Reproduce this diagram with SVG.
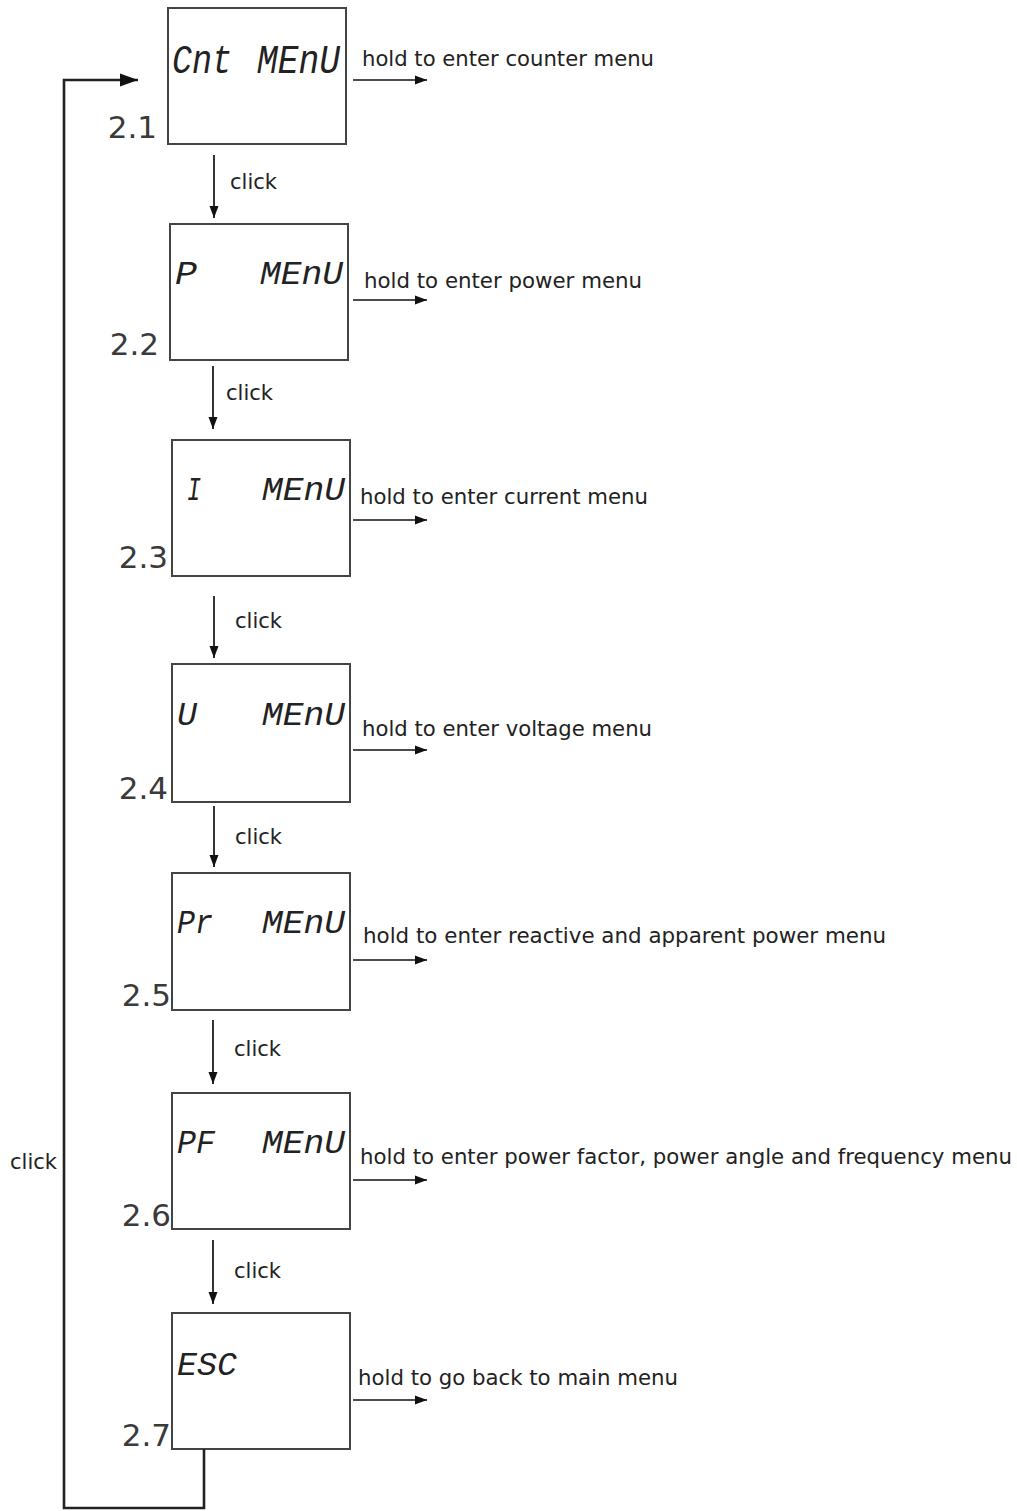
<svg xmlns="http://www.w3.org/2000/svg" width="1017" height="1511" viewBox="0 0 1017 1511">
<style>
.box{fill:#fff;stroke:#444;stroke-width:2}
.lcd{font-family:"Liberation Mono","DejaVu Sans Mono",monospace;font-style:italic;fill:#222}
.num{font-family:"DejaVu Sans",sans-serif;font-size:31px;fill:#3a3a3a;text-anchor:end}
.lbl{font-family:"DejaVu Sans",sans-serif;font-size:21px;fill:#222}
.arr{stroke:#111;stroke-width:1.7;fill:none}
.loop{stroke:#222;stroke-width:2.6;fill:none}
</style>
<defs>
<marker id="ah" markerUnits="userSpaceOnUse" markerWidth="13" markerHeight="11" refX="12" refY="5.5" orient="auto"><path d="M0,1 L12,5.5 L0,10 Z" fill="#111"/></marker>
<marker id="ahb" markerUnits="userSpaceOnUse" markerWidth="19" markerHeight="15" refX="18" refY="7.5" orient="auto"><path d="M0,1 L18,7.5 L0,14 Z" fill="#111"/></marker>
</defs>
<rect width="1017" height="1511" fill="#fff"/>
<g id="n21">
<rect class="box" x="168" y="8" width="178" height="136"/>
<text class="lcd" x="172" y="73" font-size="40" textLength="60" lengthAdjust="spacingAndGlyphs">Cnt</text>
<text class="lcd" x="257" y="73" font-size="40" textLength="83" lengthAdjust="spacingAndGlyphs">MEnU</text>
<text class="num" x="157" y="138">2.1</text>
</g>
<g id="n22">
<rect class="box" x="170" y="224" width="178" height="136"/>
<text class="lcd" x="175" y="284" font-size="33" textLength="22" lengthAdjust="spacingAndGlyphs">P</text>
<text class="lcd" x="260" y="284" font-size="33" textLength="83" lengthAdjust="spacingAndGlyphs">MEnU</text>
<text class="num" x="159" y="355">2.2</text>
</g>
<g id="n23">
<rect class="box" x="172" y="440" width="178" height="136"/>
<text class="lcd" x="187" y="500" font-size="33" textLength="14" lengthAdjust="spacingAndGlyphs">I</text>
<text class="lcd" x="262" y="500" font-size="33" textLength="83" lengthAdjust="spacingAndGlyphs">MEnU</text>
<text class="num" x="168" y="568">2.3</text>
</g>
<g id="n24">
<rect class="box" x="172" y="664" width="178" height="138"/>
<text class="lcd" x="177" y="725" font-size="33" textLength="20" lengthAdjust="spacingAndGlyphs">U</text>
<text class="lcd" x="262" y="725" font-size="33" textLength="83" lengthAdjust="spacingAndGlyphs">MEnU</text>
<text class="num" x="168" y="799">2.4</text>
</g>
<g id="n25">
<rect class="box" x="172" y="873" width="178" height="137"/>
<text class="lcd" x="177" y="933" font-size="33" textLength="36" lengthAdjust="spacingAndGlyphs">Pr</text>
<text class="lcd" x="262" y="933" font-size="33" textLength="83" lengthAdjust="spacingAndGlyphs">MEnU</text>
<text class="num" x="171" y="1006">2.5</text>
</g>
<g id="n26">
<rect class="box" x="172" y="1093" width="178" height="136"/>
<text class="lcd" x="177" y="1153" font-size="33" textLength="38" lengthAdjust="spacingAndGlyphs">PF</text>
<text class="lcd" x="262" y="1153" font-size="33" textLength="83" lengthAdjust="spacingAndGlyphs">MEnU</text>
<text class="num" x="171" y="1226">2.6</text>
</g>
<g id="n27">
<rect class="box" x="172" y="1313" width="178" height="136"/>
<text class="lcd" x="177" y="1375" font-size="33" textLength="60" lengthAdjust="spacingAndGlyphs">ESC</text>
<text class="num" x="171" y="1446">2.7</text>
</g>
<g id="connectors">
<path class="arr" d="M214,155 V218" marker-end="url(#ah)"/>
<path class="arr" d="M213,366 V429" marker-end="url(#ah)"/>
<path class="arr" d="M214,596 V658" marker-end="url(#ah)"/>
<path class="arr" d="M214,806 V867" marker-end="url(#ah)"/>
<path class="arr" d="M213,1020 V1084" marker-end="url(#ah)"/>
<path class="arr" d="M213,1240 V1304" marker-end="url(#ah)"/>
<path class="arr" d="M353,80 H427" marker-end="url(#ah)"/>
<path class="arr" d="M353,300 H427" marker-end="url(#ah)"/>
<path class="arr" d="M353,520 H427" marker-end="url(#ah)"/>
<path class="arr" d="M353,750 H427" marker-end="url(#ah)"/>
<path class="arr" d="M353,960 H427" marker-end="url(#ah)"/>
<path class="arr" d="M353,1180 H427" marker-end="url(#ah)"/>
<path class="arr" d="M353,1400 H427" marker-end="url(#ah)"/>
<path class="loop" d="M204,1449 V1508 H64 V80 H138" marker-end="url(#ahb)"/>
<text class="lbl" x="230" y="189" textLength="47" lengthAdjust="spacingAndGlyphs">click</text>
<text class="lbl" x="226" y="400" textLength="47" lengthAdjust="spacingAndGlyphs">click</text>
<text class="lbl" x="235" y="628" textLength="47" lengthAdjust="spacingAndGlyphs">click</text>
<text class="lbl" x="235" y="844" textLength="47" lengthAdjust="spacingAndGlyphs">click</text>
<text class="lbl" x="234" y="1056" textLength="47" lengthAdjust="spacingAndGlyphs">click</text>
<text class="lbl" x="234" y="1278" textLength="47" lengthAdjust="spacingAndGlyphs">click</text>
<text class="lbl" x="10" y="1169" textLength="47" lengthAdjust="spacingAndGlyphs">click</text>
<text class="lbl" x="362" y="66" textLength="292" lengthAdjust="spacingAndGlyphs">hold to enter counter menu</text>
<text class="lbl" x="364" y="288" textLength="278" lengthAdjust="spacingAndGlyphs">hold to enter power menu</text>
<text class="lbl" x="360" y="504" textLength="288" lengthAdjust="spacingAndGlyphs">hold to enter current menu</text>
<text class="lbl" x="362" y="736" textLength="290" lengthAdjust="spacingAndGlyphs">hold to enter voltage menu</text>
<text class="lbl" x="363" y="943" textLength="523" lengthAdjust="spacingAndGlyphs">hold to enter reactive and apparent power menu</text>
<text class="lbl" x="360" y="1164" textLength="652" lengthAdjust="spacingAndGlyphs">hold to enter power factor, power angle and frequency menu</text>
<text class="lbl" x="358" y="1385" textLength="320" lengthAdjust="spacingAndGlyphs">hold to go back to main menu</text>
</g>
</svg>
